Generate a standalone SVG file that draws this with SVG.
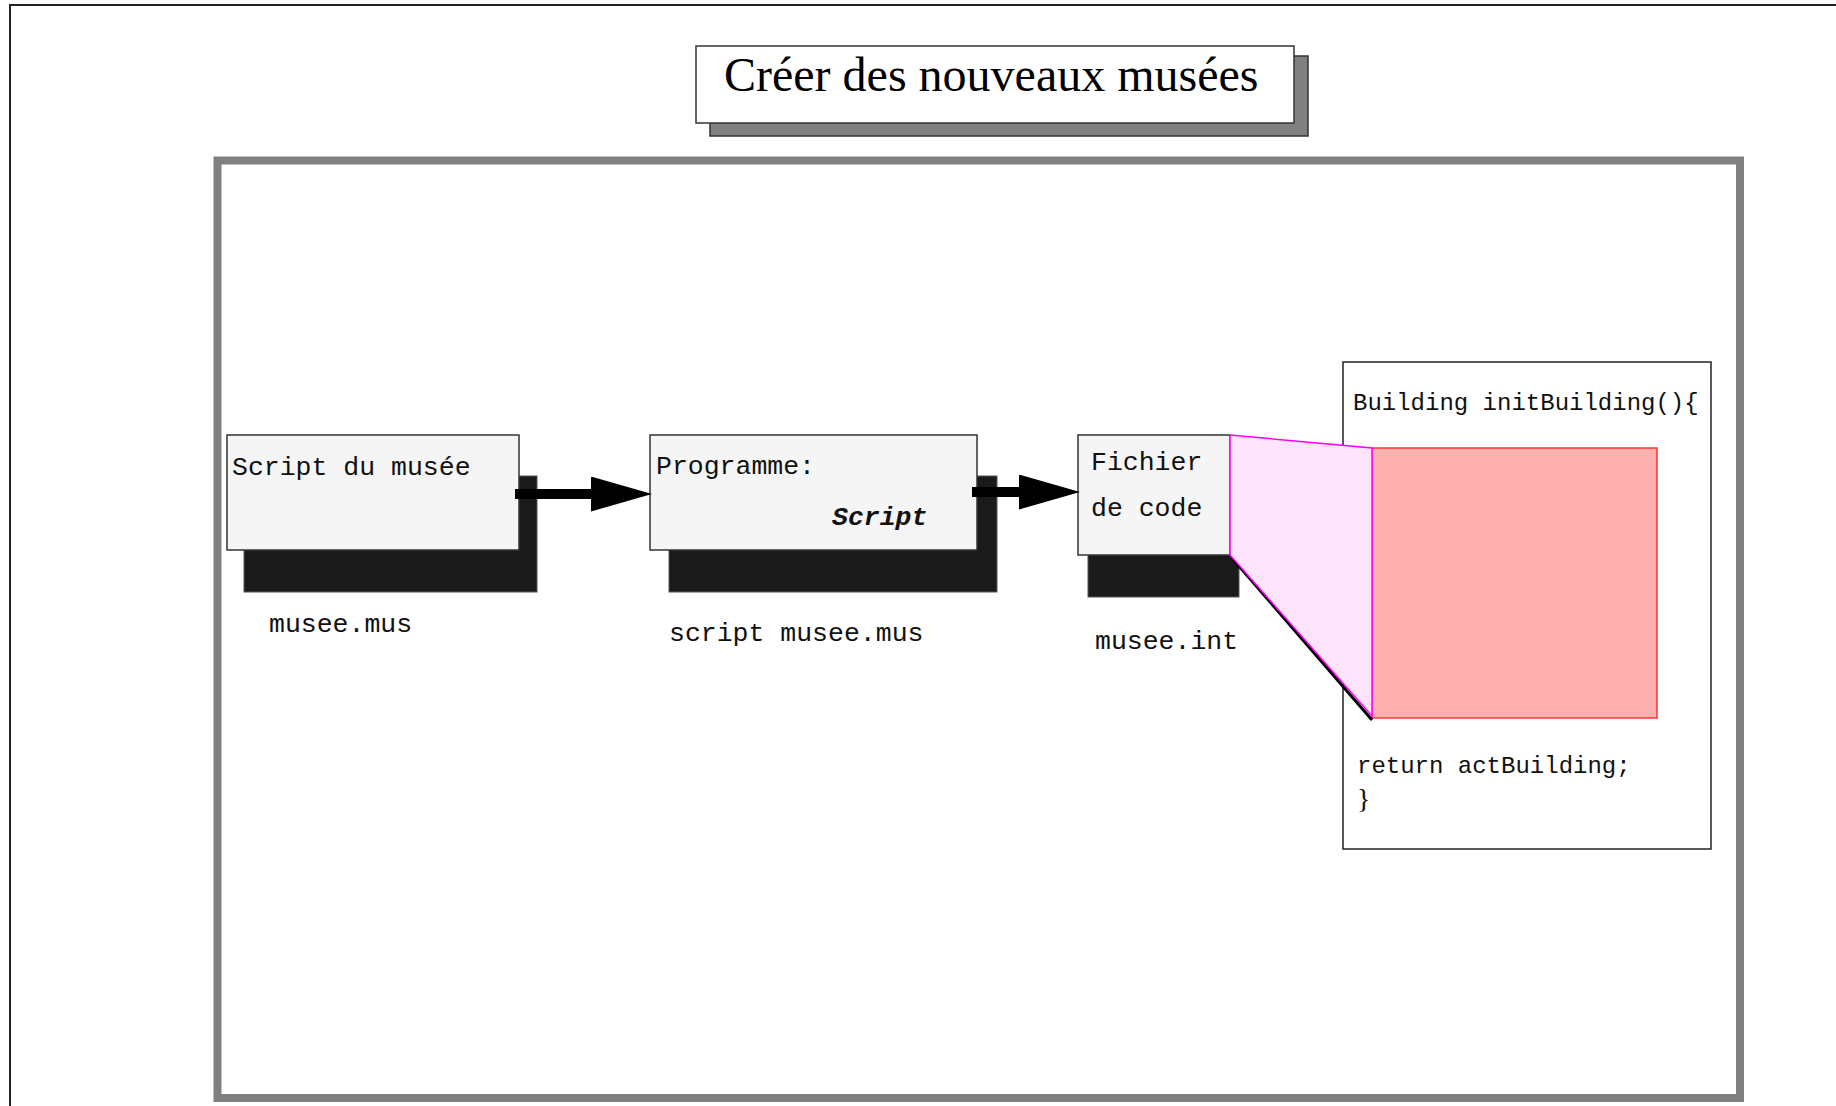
<svg xmlns="http://www.w3.org/2000/svg" width="1836" height="1106" viewBox="0 0 1836 1106">
<defs>
<style>
.node{fill:#f5f5f5;stroke:#333;stroke-width:1.5}
.shadow{fill:#1a1a1a;stroke:#555;stroke-width:1}
.mono{font-family:"Liberation Mono","Courier New",monospace;fill:#111}
.lbl{font-size:26.5px}
.code{font-size:24px}
.shaft{stroke:#000;stroke-width:10;fill:none;marker-end:url(#head)}
</style>
<marker id="head" viewBox="0 0 61 35" refX="0" refY="17.5" markerWidth="61" markerHeight="35" markerUnits="userSpaceOnUse" orient="auto">
<path d="M0,0 L61,17.5 L0,35 Z" fill="#000"/>
</marker>
</defs>
<rect x="0" y="0" width="1836" height="1106" fill="#fff"/>
<path d="M10,1106 L10,5 L1836,5" fill="none" stroke="#222" stroke-width="2"/>

<g id="title">
<rect x="710" y="56" width="598" height="80" fill="#808080" stroke="#333" stroke-width="1.5"/>
<rect x="696" y="46" width="598" height="77" fill="#fff" stroke="#333" stroke-width="1.5"/>
<text x="724" y="91" font-family="Liberation Serif,'Times New Roman',serif" font-size="48" fill="#000">Créer des nouveaux musées</text>
</g>

<g id="frame">
<rect x="217.5" y="160.5" width="1522.5" height="937.5" fill="#fff" stroke="#808080" stroke-width="8"/>
</g>

<g id="node-script-musee">
<rect class="shadow" x="244" y="476" width="293" height="116"/>
<rect class="node" x="227" y="435" width="292" height="115"/>
<text class="mono lbl" x="232" y="475">Script du musée</text>
<text class="mono lbl" x="269" y="632">musee.mus</text>
</g>

<g id="node-programme">
<rect class="shadow" x="669" y="476" width="328" height="116"/>
<rect class="node" x="650" y="435" width="327" height="115"/>
<text class="mono lbl" x="656" y="474">Programme:</text>
<text class="mono lbl" x="832" y="525" font-weight="bold" font-style="italic">Script</text>
<text class="mono lbl" x="669" y="641">script musee.mus</text>
</g>

<g id="node-fichier">
<rect class="shadow" x="1088" y="500" width="151" height="97"/>
<rect class="node" x="1078" y="435" width="152" height="120"/>
<text class="mono lbl" x="1091" y="470">Fichier</text>
<text class="mono lbl" x="1091" y="516">de code</text>
<text class="mono lbl" x="1095" y="649">musee.int</text>
</g>

<g id="node-code">
<rect x="1343" y="362" width="368" height="487" fill="#fff" stroke="#222" stroke-width="1.5"/>
<text class="mono code" x="1353" y="410">Building initBuilding(){</text>
<rect x="1372" y="448" width="285" height="270" fill="#ffb0b0" stroke="#ff3333" stroke-width="1.5"/>
<text class="mono code" x="1357" y="773">return actBuilding;</text>
<text x="1357" y="808" font-family="Liberation Serif,'Times New Roman',serif" font-size="28" fill="#111">}</text>
</g>

<g id="zoom-projection">
<line x1="1232" y1="558" x2="1372" y2="720" stroke="#000" stroke-width="3"/>
<polygon points="1230,435 1372,448 1372,716 1230,555" fill="#fde4fc" stroke="#ff00ff" stroke-width="1.5"/>
</g>

<g id="connectors">
<line class="shaft" x1="515" y1="494" x2="591" y2="494"/>
<line class="shaft" x1="972" y1="492" x2="1019" y2="492"/>
</g>
</svg>
